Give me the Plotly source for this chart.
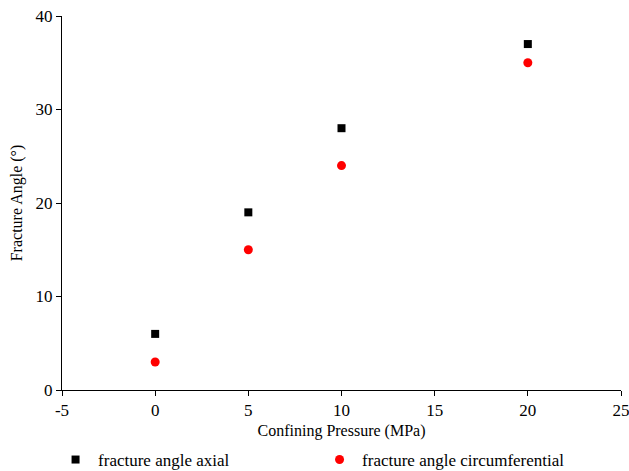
import plotly.graph_objects as go

pressure = [0, 5, 10, 20]
angle_axial = [6, 19, 28, 37]
angle_circ = [3, 15, 24, 35]
x_ticks = [-5, 0, 5, 10, 15, 20, 25]
x_tick_text = ["-5", "0", "5", "10", "15", "20", "25"]

font = "Liberation Serif"

fig = go.Figure()
fig.add_trace(go.Scatter(x=pressure, y=angle_axial, mode="markers",
                         name="fracture angle axial",
                         marker=dict(symbol="square", size=8, color="black")))
fig.add_trace(go.Scatter(x=pressure, y=angle_circ, mode="markers",
                         name="fracture angle circumferential",
                         marker=dict(symbol="circle", size=9, color="red")))

axis_common = dict(showline=True, linecolor="black", linewidth=1, ticks="outside",
                   ticklen=5, tickcolor="black", showgrid=False, zeroline=False,
                   automargin=False, ticklabeloverflow="allow",
                   tickfont=dict(family=font, size=17, color="black"))
fig.update_xaxes(range=[-5, 25], tickvals=x_ticks, ticktext=x_tick_text,
                 title=dict(text="Confining Pressure (MPa)", font=dict(family=font, size=16, color="black"), standoff=5),
                 **axis_common)
fig.update_yaxes(range=[0, 40], dtick=10,
                 title=dict(text="Fracture Angle (°)", font=dict(family=font, size=16, color="black"), standoff=8),
                 **axis_common)

fig.update_layout(
    width=629, height=471,
    margin=dict(l=62, r=8, t=16, b=81, autoexpand=False),
    plot_bgcolor="white", paper_bgcolor="white",
    font=dict(family=font, color="black"),
    legend=dict(orientation="h", x=-0.016, xanchor="left", y=-0.139, yanchor="top",
                font=dict(family=font, size=17, color="black"),
                entrywidth=214, itemwidth=35),
)
fig.write_html("out.html", config={"displayModeBar": False},
               post_script="document.body.style.margin='0';")
